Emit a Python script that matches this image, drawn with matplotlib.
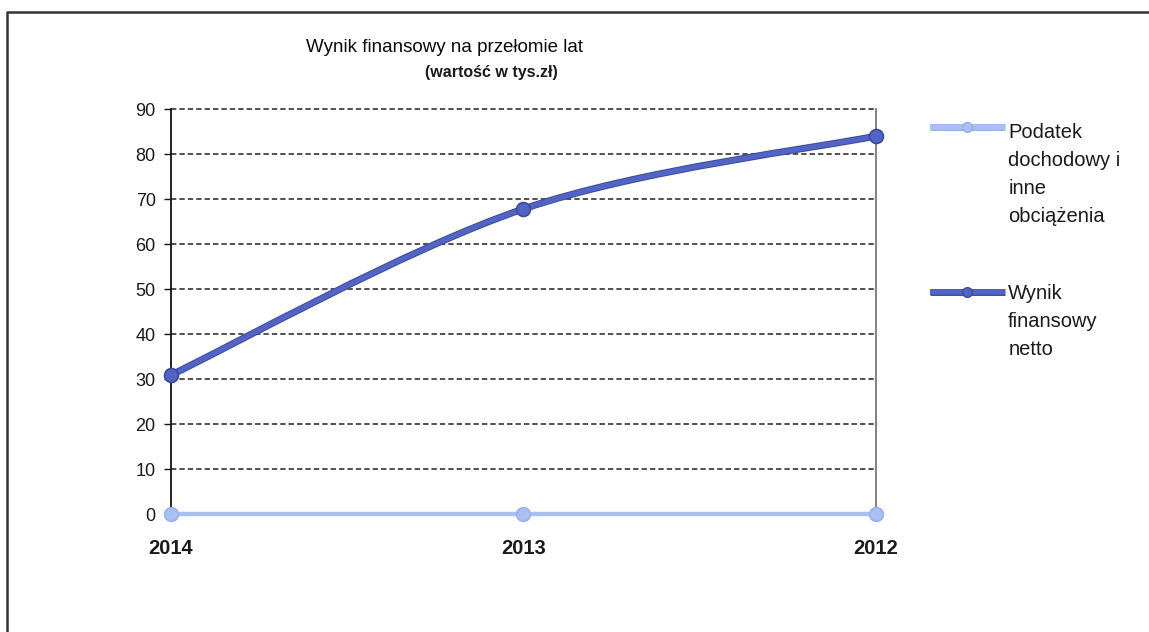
import matplotlib
matplotlib.use("Agg")
import matplotlib.pyplot as plt
import matplotlib.patheffects as pe
from matplotlib.path import Path
from matplotlib.patches import PathPatch
from matplotlib.lines import Line2D
import numpy as np

plt.rcParams["font.family"] = ["Liberation Sans", "DejaVu Sans"]

# --- Data ---
years = ["2014", "2013", "2012"]
podatek = [0, 0, 0]
wynik_netto = [30.9, 67.8, 84.0]

TITLE = "Wynik finansowy na przełomie lat"
SUBTITLE = "(wartość w tys.zł)"
LABEL_PODATEK = "Podatek\ndochodowy i\ninne\nobciążenia"
LABEL_WYNIK = "Wynik\nfinansowy\nnetto"

DARK = "#5264c4"
DARK_EDGE = "#3a4a9e"
LIGHT = "#a9c0f4"
LIGHT_EDGE = "#94aee8"
TEXT = "#1a1a1a"


def smooth_path(xs, ys, tension=1 / 6):
    """Catmull-Rom style cubic Bezier path through the given points."""
    pts = np.column_stack([xs, ys]).astype(float)
    verts = [pts[0]]
    codes = [Path.MOVETO]
    n = len(pts)
    for i in range(n - 1):
        p0 = pts[i - 1] if i > 0 else pts[i]
        p1, p2 = pts[i], pts[i + 1]
        p3 = pts[i + 2] if i + 2 < n else pts[i + 1]
        c1 = p1 + (p2 - p0) * tension
        c2 = p2 - (p3 - p1) * tension
        verts += [c1, c2, p2]
        codes += [Path.CURVE4] * 3
    return Path(verts, codes)


fig = plt.figure(figsize=(11.49, 6.32), dpi=100)
ax = fig.add_axes([0.1488, 0.1867, 0.6136, 0.6408])

x = np.arange(len(years))

# grid
ax.set_ylim(0, 90)
ax.set_xlim(0, len(years) - 1)
ax.set_yticks(range(0, 91, 10))
ax.yaxis.grid(True, color="#222222", linestyle=(0, (3.5, 2)), linewidth=1.1)
for gl in ax.get_ygridlines():
    gl.set_clip_on(False)
ax.set_axisbelow(True)

# series: tax line (flat at zero) and net result (smoothed)
ax.plot(x, podatek, color=LIGHT, linewidth=3.2, solid_capstyle="round",
        marker="o", markersize=10, markerfacecolor=LIGHT, markeredgecolor=LIGHT_EDGE,
        clip_on=False, zorder=3)

edge = [pe.Stroke(linewidth=5, foreground=DARK_EDGE), pe.Normal()]
curve = PathPatch(smooth_path(x, wynik_netto), facecolor="none", edgecolor=DARK,
                  linewidth=3.6, capstyle="round", zorder=4, path_effects=edge)
ax.add_patch(curve)
ax.plot(x, wynik_netto, linestyle="none", marker="o", markersize=10,
        markerfacecolor=DARK, markeredgecolor=DARK_EDGE, markeredgewidth=1.2,
        clip_on=False, zorder=5)

# axes styling
for side in ["top", "bottom"]:
    ax.spines[side].set_visible(False)
ax.spines["left"].set_color("#111111")
ax.spines["left"].set_linewidth(1.3)
ax.spines["right"].set_color("#777777")
ax.spines["right"].set_linewidth(1.3)

ax.tick_params(axis="y", length=5, width=1, color="#111111", labelsize=13,
               labelcolor=TEXT, pad=6)
ax.set_xticks(x)
ax.set_xticklabels(years, fontsize=14.5, fontweight="bold", color=TEXT)
ax.tick_params(axis="x", length=0, pad=18)

# titles
fig.text(0.387, 0.925, TITLE, ha="center", va="center", fontsize=13.5, color="#0a0a0a")
fig.text(0.428, 0.885, SUBTITLE, ha="center", va="center", fontsize=11.5,
         fontweight="bold", color=TEXT)

# legend: handle sits level with the first line of each wrapped label
legend_items = [
    (LABEL_PODATEK, LIGHT, LIGHT_EDGE, 0.799, 0.793),
    (LABEL_WYNIK, DARK, DARK_EDGE, 0.538, 0.538),
]
for label, color, ecolor, y_handle, y_text in legend_items:
    fig.add_artist(Line2D([0.8095, 0.8745], [y_handle, y_handle], transform=fig.transFigure,
                          color=color, linewidth=4, solid_capstyle="butt",
                          path_effects=[pe.Stroke(linewidth=5, foreground=ecolor), pe.Normal()]))
    fig.add_artist(Line2D([0.842], [y_handle], transform=fig.transFigure, marker="o",
                          markersize=7, markerfacecolor=color, markeredgecolor=ecolor))
    fig.text(0.8775, y_text + 0.012, label, ha="left", va="top", fontsize=14.5,
             color=TEXT, linespacing=1.6)

# outer chart frame
fig.add_artist(Line2D([0.0065, 0.0065, 1.0], [0.0, 0.981, 0.981],
                      transform=fig.transFigure, color="#333333", linewidth=1.8))

fig.savefig("out.png", dpi=100, facecolor="white")
